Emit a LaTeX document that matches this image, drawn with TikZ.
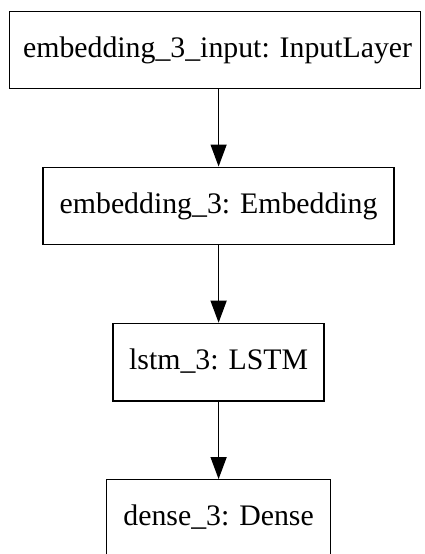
\documentclass[tikz,border=0pt]{standalone}
\usepackage{fontspec}
\setmainfont{Liberation Serif}
\usetikzlibrary{arrows.meta}
\begin{document}
\begin{tikzpicture}[x=1pt,y=1pt,
  layer/.style={draw, line width=1.3pt, inner sep=0pt, fill=white,
    font=\fontsize{29.8}{30}\selectfont, text height=20pt, text depth=5pt},
  flow/.style={line width=1.3pt, -{Triangle[length=22pt,width=16pt]}}]
\clip (0,0) rectangle (424,-554);
\fill[white] (0,0) rectangle (424,-554);
\node[layer, minimum width=411pt, minimum height=76.5pt] (inp) at (215.1,-50) {\hspace*{5pt}embedding\_3\_input: InputLayer};
\node[layer, minimum width=351pt, minimum height=77pt] (emb) at (218.6,-205.7) {embedding\_3: Embedding};
\node[layer, minimum width=211pt, minimum height=77.7pt] (lstm) at (218.6,-362.2) {lstm\_3: LSTM};
\node[layer, minimum width=224.3pt, minimum height=76.5pt] (dense) at (218.6,-518) {dense\_3: Dense};
\draw[flow] (emb.north |- inp.south) -- (emb.north);
\draw[flow] (emb.south) -- (lstm.north);
\draw[flow] (lstm.south) -- (dense.north);
\end{tikzpicture}
\end{document}
